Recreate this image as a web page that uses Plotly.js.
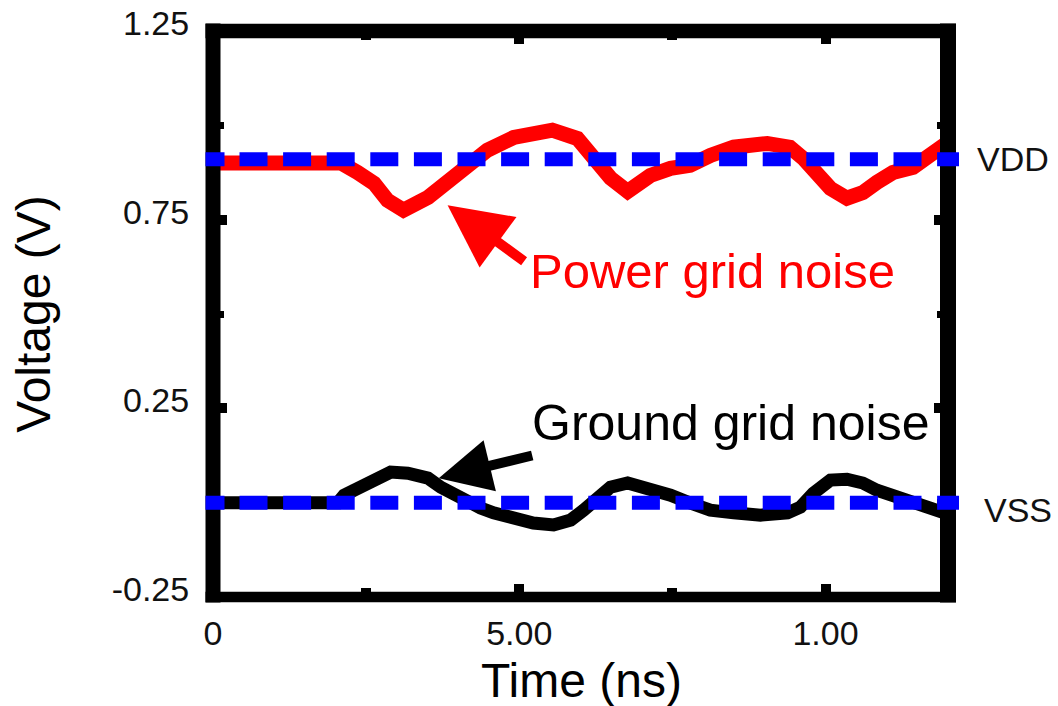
<!DOCTYPE html>
<html>
<head>
<meta charset="utf-8">
<script src="https://cdn.plot.ly/plotly-3.0.1.min.js"></script>
<style>
  html, body { margin: 0; padding: 0; background: #ffffff; }
  #chart { width: 1058px; height: 706px; }
</style>
</head>
<body>
<div id="chart"></div>
<script>
// Supply rail noise waveforms (time in ns, voltage in V)
const powerTimeNs = [0, 0.209, 0.236, 0.263, 0.285, 0.311, 0.351, 0.383, 0.416, 0.448, 0.491, 0.523,
  0.554, 0.595, 0.621, 0.649, 0.677, 0.714, 0.747, 0.779, 0.812, 0.850, 0.905, 0.942, 0.964, 0.986,
  1.008, 1.035, 1.061, 1.084, 1.110, 1.143, 1.167, 1.187, 1.2];
const powerGridV = [0.900, 0.900, 0.875, 0.846, 0.801, 0.775, 0.809, 0.854, 0.889, 0.934, 0.968, 0.981,
  0.987, 0.965, 0.915, 0.860, 0.825, 0.867, 0.886, 0.894, 0.920, 0.942, 0.952, 0.942, 0.912, 0.875,
  0.833, 0.807, 0.822, 0.849, 0.875, 0.889, 0.920, 0.942, 0.955];

const groundTimeNs = [0, 0.204, 0.214, 0.241, 0.269, 0.290, 0.318, 0.351, 0.372, 0.393, 0.416, 0.437,
  0.458, 0.497, 0.523, 0.556, 0.584, 0.605, 0.628, 0.649, 0.677, 0.714, 0.747, 0.779, 0.812, 0.850,
  0.894, 0.938, 0.959, 0.980, 1.008, 1.035, 1.061, 1.084, 1.110, 1.138, 1.166, 1.187, 1.2];
const groundGridV = [0, 0, 0.020, 0.041, 0.065, 0.081, 0.078, 0.065, 0.041, 0.020, 0.002, -0.014,
  -0.027, -0.046, -0.054, -0.059, -0.046, -0.020, 0.015, 0.041, 0.052, 0.039, 0.020, -0.001, -0.020, -0.027,
  -0.033, -0.027, -0.012, 0.025, 0.060, 0.062, 0.052, 0.033, 0.020, -0.001, -0.014, -0.025, -0.030];

// Nominal rail levels
const vddLevel = 0.91;
const vssLevel = 0.0;

// Axis ticks
const xTickVals = [0, 0.5, 1.0];
const xTickText = ['0', '5.00', '1.00'];
const xMinorVals = [0.25, 0.75];
const yTickVals = [-0.25, 0.25, 0.75, 1.25];
const yTickText = ['-0.25', '0.25', '0.75', '1.25'];
const yMinorVals = [0, 0.5, 1.0];

// Page geometry (px)
const W = 1058, H = 706;
const margin = { l: 212.5, r: 110, t: 30.5, b: 108.5, pad: 0 };
const plotW = W - margin.l - margin.r;
const plotH = H - margin.t - margin.b;
const paperX = px => (px - margin.l) / plotW;
const paperY = py => (H - margin.b - py) / plotH;

const FONT = '"Liberation Sans", Arial, Helvetica, sans-serif';

// Dashed rail line: a short leading dash, then a regular 28/15.6 pattern
function railDash() {
  const parts = ['19px', '15px'];
  for (let i = 0; i < 18; i++) parts.push('28px', '15.6px');
  return parts.join(',');
}

function railLine(level) {
  return {
    type: 'line', layer: 'above',
    xref: 'paper', yref: 'y',
    x0: paperX(205), x1: paperX(959), y0: level, y1: level,
    line: { color: '#0000ff', width: 14, dash: railDash() }
  };
}

function frameLine(x0, y0, x1, y1, w) {
  return {
    type: 'line', layer: 'above', xref: 'paper', yref: 'paper',
    x0: x0, y0: y0, x1: x1, y1: y1,
    line: { color: '#000000', width: w }
  };
}

// Pointer arrow: a fat head on a short shaft
function pointer(x, y, ax, ay, color, width, size) {
  return {
    text: '', xref: 'x', yref: 'y', x: x, y: y, ax: ax, ay: ay,
    showarrow: true, arrowhead: 2, arrowsize: size, arrowwidth: width,
    arrowcolor: color, standoff: 0
  };
}

const traces = [
  {
    x: powerTimeNs, y: powerGridV, type: 'scatter', mode: 'lines',
    line: { color: '#ff0000', width: 15 }, name: 'Power grid noise', hoverinfo: 'skip'
  },
  {
    x: groundTimeNs, y: groundGridV, type: 'scatter', mode: 'lines',
    line: { color: '#000000', width: 13 }, name: 'Ground grid noise', hoverinfo: 'skip'
  }
];

const layout = {
  width: W, height: H,
  margin: margin,
  paper_bgcolor: '#ffffff', plot_bgcolor: '#ffffff',
  showlegend: false,
  font: { family: FONT, color: '#000000', size: 34 },
  xaxis: {
    range: [0, 1.2], showgrid: false, zeroline: false,
    showline: true, linewidth: 1, linecolor: '#000000', mirror: 'ticks',
    ticks: 'inside', ticklen: 13, tickwidth: 10, tickcolor: '#000000',
    tickvals: xTickVals, ticktext: xTickText,
    tickfont: { family: FONT, size: 34, color: '#111111' },
    ticklabelstandoff: 6,
    minor: { ticks: 'inside', ticklen: 9, tickwidth: 10, tickcolor: '#000000', tickvals: xMinorVals, showgrid: false },
    automargin: false, fixedrange: true
  },
  yaxis: {
    range: [-0.25, 1.25], showgrid: false, zeroline: false,
    showline: true, linewidth: 1, linecolor: '#000000', mirror: 'ticks',
    ticks: 'inside', ticklen: 14, tickwidth: 10, tickcolor: '#000000',
    tickvals: yTickVals, ticktext: yTickText,
    tickfont: { family: FONT, size: 34, color: '#111111' },
    ticklabelstandoff: 16, ticklabelshift: -8,
    minor: { ticks: 'inside', ticklen: 11, tickwidth: 7, tickcolor: '#000000', tickvals: yMinorVals, showgrid: false },
    title: { text: 'Voltage (V)', font: { family: FONT, size: 48, color: '#000000' }, standoff: 45 },
    automargin: false, fixedrange: true
  },
  shapes: [
    // heavy frame around the plotting area
    frameLine(paperX(205), 1, paperX(956), 1, 14.5),
    frameLine(paperX(205), 0, paperX(956), 0, 10.5),
    frameLine(0, paperY(23), 0, paperY(603), 15),
    frameLine(1, paperY(23), 1, paperY(603), 16),
    // VDD / VSS reference rails
    railLine(vddLevel),
    railLine(vssLevel)
  ],
  annotations: [
    // x-axis title, set low in the bottom margin
    {
      text: 'Time (ns)', xref: 'paper', yref: 'paper', x: paperX(581), y: paperY(681.5),
      xanchor: 'center', yanchor: 'middle', showarrow: false,
      font: { family: FONT, size: 48, color: '#000000' }
    },
    {
      text: 'VDD', xref: 'paper', yref: 'y', x: paperX(975), y: vddLevel,
      xanchor: 'left', yanchor: 'middle', showarrow: false,
      font: { family: FONT, size: 34, color: '#111111' }
    },
    {
      text: 'VSS', xref: 'paper', yref: 'y', x: paperX(982), y: vssLevel, yshift: -7,
      xanchor: 'left', yanchor: 'middle', showarrow: false,
      font: { family: FONT, size: 34, color: '#111111' }
    },
    {
      text: 'Power grid noise', xref: 'x', yref: 'y', x: 0.816, y: 0.613,
      xanchor: 'center', yanchor: 'middle', showarrow: false,
      font: { family: FONT, size: 49, color: '#ff0000' }
    },
    {
      text: 'Ground grid noise', xref: 'x', yref: 'y', x: 0.845, y: 0.212,
      xanchor: 'center', yanchor: 'middle', showarrow: false,
      font: { family: FONT, size: 50, color: '#000000' }
    },
    pointer(0.383, 0.788, 78, 57, '#ff0000', 10, 1.25),
    pointer(0.3685, 0.065, 95, -23, '#000000', 10, 1.05)
  ]
};

Plotly.newPlot('chart', traces, layout, { staticPlot: true, displayModeBar: false });
</script>
</body>
</html>
